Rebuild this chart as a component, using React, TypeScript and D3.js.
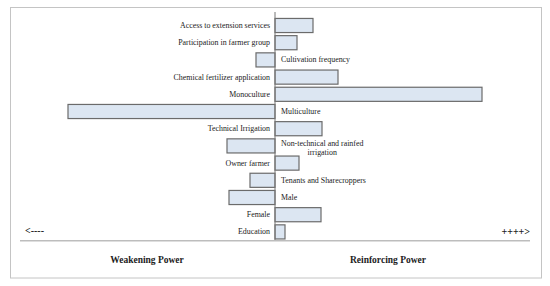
import React, { useEffect, useRef } from "react";
import * as d3 from "d3";

const categories: string[][] = [
  ["Access to extension services"],
  ["Participation in farmer group"],
  ["Cultivation frequency"],
  ["Chemical fertilizer application"],
  ["Monoculture"],
  ["Multiculture"],
  ["Technical Irrigation"],
  ["Non-technical and rainfed", "irrigation"],
  ["Owner farmer"],
  ["Tenants and Sharecroppers"],
  ["Male"],
  ["Female"],
  ["Education"],
];
const values: number[] = [0.38, 0.22, -0.19, 0.63, 2.07, -2.07, 0.47, -0.48, 0.24, -0.25, -0.46, 0.46, 0.1];
const leftArrow = "<----";
const rightArrow = "++++>";
const leftTitle = "Weakening Power";
const rightTitle = "Reinforcing Power";

const W = 550;
const H = 286;
const FONT = "'Liberation Serif', 'Times New Roman', serif";

export default function App() {
  const ref = useRef<SVGSVGElement | null>(null);

  useEffect(() => {
    const svg = d3.select(ref.current);
    svg.selectAll("*").remove();

    const keys = categories.map((c) => c.join(" "));
    const x = d3.scaleLinear().domain([-2.1, 2.1]).range([65, 485]);
    const y = d3
      .scaleBand<string>()
      .domain(keys)
      .range([16.9, 240.5])
      .paddingInner(0.18)
      .paddingOuter(0.09);

    svg
      .append("rect")
      .attr("x", 10.5)
      .attr("y", 7.5)
      .attr("width", 531)
      .attr("height", 270.5)
      .attr("fill", "#fff")
      .attr("stroke", "#c4c4c4")
      .attr("stroke-width", 1);

    svg
      .selectAll("rect.bar")
      .data(values)
      .enter()
      .append("rect")
      .attr("class", "bar")
      .attr("x", (d) => x(Math.min(0, d)))
      .attr("y", (_d, i) => y(keys[i])!)
      .attr("width", (d) => Math.abs(x(d) - x(0)))
      .attr("height", y.bandwidth())
      .attr("fill", "#dce6f2")
      .attr("stroke", "#6b6b6b")
      .attr("stroke-width", 1.2);

    svg
      .append("line")
      .attr("x1", x(0))
      .attr("x2", x(0))
      .attr("y1", 12)
      .attr("y2", 241)
      .attr("stroke", "#777")
      .attr("stroke-width", 1);

    svg
      .append("line")
      .attr("x1", 20)
      .attr("x2", 530)
      .attr("y1", 240.8)
      .attr("y2", 240.8)
      .attr("stroke", "#bdbdbd")
      .attr("stroke-width", 1.5);

    const FS = 7.9;
    categories.forEach((lines, i) => {
      const v = values[i];
      const cy = y(keys[i])! + y.bandwidth() / 2;
      const pos = v >= 0;
      const t = svg
        .append("text")
        .attr("font-family", FONT)
        .attr("font-size", FS)
        .attr("fill", "#222")
        .attr("dominant-baseline", "central");
      if (lines.length === 1) {
        t.attr("x", pos ? x(0) - 5 : x(0) + 6)
          .attr("y", cy)
          .attr("text-anchor", pos ? "end" : "start")
          .text(lines[0]);
      } else {
        const tmp = svg
          .append("text")
          .attr("font-family", FONT)
          .attr("font-size", FS)
          .text(lines[0]);
        const w = (tmp.node() as SVGTextElement).getComputedTextLength();
        tmp.remove();
        const cx = x(0) + 6 + w / 2;
        t.attr("text-anchor", "middle");
        lines.forEach((ln, k) => {
          t.append("tspan")
            .attr("x", cx)
            .attr("y", cy - 3 + k * 9.4)
            .text(ln);
        });
      }
    });

    const arrowStyle = (sel: any) =>
      sel
        .attr("dominant-baseline", "central")
        .attr("font-family", FONT)
        .attr("font-size", 10)
        .attr("font-weight", "bold")
        .attr("fill", "#222");
    arrowStyle(svg.append("text").attr("x", 25).attr("y", 230).text(leftArrow));
    arrowStyle(
      svg.append("text").attr("x", 530).attr("y", 231).attr("text-anchor", "end").text(rightArrow)
    );

    const titleStyle = (sel: any) =>
      sel
        .attr("text-anchor", "middle")
        .attr("dominant-baseline", "central")
        .attr("font-family", FONT)
        .attr("font-size", 9.5)
        .attr("font-weight", "bold")
        .attr("fill", "#222");
    titleStyle(svg.append("text").attr("x", 147).attr("y", 260).text(leftTitle));
    titleStyle(svg.append("text").attr("x", 388).attr("y", 260).text(rightTitle));
  }, []);

  return (
    <svg
      ref={ref}
      width={W}
      height={H}
      style={{ position: "absolute", left: 0, top: 0, background: "#fff" }}
    />
  );
}
